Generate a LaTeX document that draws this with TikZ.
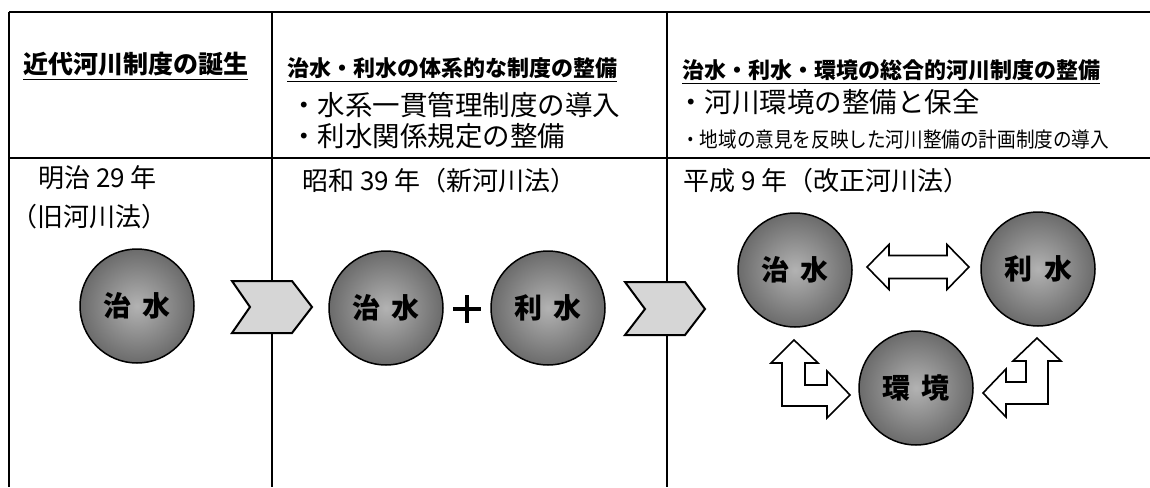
\documentclass[tikz,border=0pt]{standalone}
\usepackage{fontspec}
\newfontfamily\jp{Noto Sans CJK JP}
\usetikzlibrary{calc}
\tikzset{
  tline/.style={line width=1.6pt, black},
  uline/.style={line width=1.3pt, black},
  hdr/.style={anchor=west, inner sep=0pt, font=\jp\bfseries\fontsize{22pt}{24pt}\selectfont},
  hdrbig/.style={hdr, font=\jp\bfseries\fontsize{25pt}{27pt}\selectfont},
  bul/.style={anchor=west, inner sep=0pt, font=\jp\fontsize{27.5pt}{30pt}\selectfont},
  bulsmall/.style={anchor=west, inner sep=0pt, font=\jp\fontsize{21pt}{23pt}\selectfont},
  yr/.style={anchor=west, inner sep=0pt, font=\jp\fontsize{26pt}{28pt}\selectfont},
  ball/.style={circle, minimum size=114pt, inner sep=0pt, draw=black, line width=1.5pt,
    shading=radial, inner color=black!30, outer color=black!58,
    font=\jp\bfseries\fontsize{28pt}{30pt}\selectfont},
  chev/.style={fill=black!16, draw=black, line width=2pt, line join=miter},
  blockarrow/.style={fill=white, draw=black, line width=1.6pt, line join=miter},
}
\begin{document}
\begin{tikzpicture}[x=1pt, y=-1pt]
\useasboundingbox (0,0) rectangle (1150,487);
% table lines
\coordinate (tl) at (9,12);
\coordinate (tr) at (1150,12);
\coordinate (bl) at (9,487);
\coordinate (ml) at (9,158);
\coordinate (mr) at (1150,158);
\coordinate (d1t) at (272,12);
\coordinate (d1b) at (272,487);
\coordinate (d2t) at (667,12);
\coordinate (d2b) at (667,487);
\draw[tline] (tl) -- (tr);
\draw[tline] (tl) -- (bl);
\draw[tline] (ml) -- (mr);
\draw[tline] (d1t) -- (d1b);
\draw[tline] (d2t) -- (d2b);

% headers
\node[hdrbig] (h1) at (23,64) {近代河川制度の誕生};
\draw[uline] ([yshift=-3pt]h1.south west) -- ([yshift=-3pt]h1.south east);
\node[hdr] (h2) at (287,68) {治水・利水の体系的な制度の整備};
\draw[uline] ([yshift=-3pt]h2.south west) -- ([yshift=-3pt]h2.south east);
\node[bul] (b21) at (290,105) {・水系一貫管理制度の導入};
\node[bul] (b22) at (290,136) {・利水関係規定の整備};
\node[hdr] (h3) at (682,70) {治水・利水・環境の総合的河川制度の整備};
\draw[uline] ([yshift=-3pt]h3.south west) -- ([yshift=-3pt]h3.south east);
\node[bul] (b31) at (677,102) {・河川環境の整備と保全};
\node[bulsmall] (b32) at (681,140) {\scalebox{0.886}[1]{・地域の意見を反映した河川整備の計画制度の導入}};

% year labels
\node[yr] (y1a) at (38,178) {明治 29 年};
\node[yr] (y1b) at (11,217) {（旧河川法）};
\node[yr] (y2) at (302,181) {昭和 39 年（新河川法）};
\node[yr] (y3) at (683,181) {平成 9 年（改正河川法）};

% chevrons
\draw[chev] (232,281) -- (292,281) -- (312,307) -- (292,333) -- (232,333) -- (250,307) -- cycle;
\draw[chev] (625,282) -- (685,282) -- (705,309) -- (685,335) -- (625,335) -- (645,309) -- cycle;

% circles
\node[ball] (c1) at (137,306) {治\hspace{12pt}水};
\node[ball] (c2) at (386,308) {治\hspace{12pt}水};
\node[ball] (c3) at (548,308) {利\hspace{12pt}水};
\node[ball] (c4) at (795,270) {治\hspace{12pt}水};
\node[ball] (c5) at (1038,269) {利\hspace{12pt}水};
\node[ball] (c6) at (916,388) {環\hspace{12pt}境};

% plus sign
\coordinate (pc) at (467,309);
\draw[line width=4pt] ([xshift=-14pt]pc) -- ([xshift=14pt]pc);
\draw[line width=4pt] ([yshift=-14pt]pc) -- ([yshift=14pt]pc);

% double arrow between c4 and c5
\draw[blockarrow] (867,267) -- (889,244.5) -- (889,255.5) -- (947,255.5) -- (947,244.5)
  -- (969,267) -- (947,289.5) -- (947,278.5) -- (889,278.5) -- (889,289.5) -- cycle;
% L arrow between c4 and c6
\draw[blockarrow] (794,340) -- (818,363) -- (805,363) -- (805,385) -- (827,385) -- (827,371)
  -- (850,395) -- (827,418) -- (827,406) -- (782,406) -- (782,363) -- (771,363) -- cycle;
% L arrow between c5 and c6
\draw[blockarrow] (1037,338) -- (1061,361) -- (1048,361) -- (1048,404) -- (1006,404) -- (1006,417)
  -- (983,393) -- (1006,369) -- (1006,382) -- (1026,382) -- (1026,361) -- (1013,361) -- cycle;
\end{tikzpicture}
\end{document}
